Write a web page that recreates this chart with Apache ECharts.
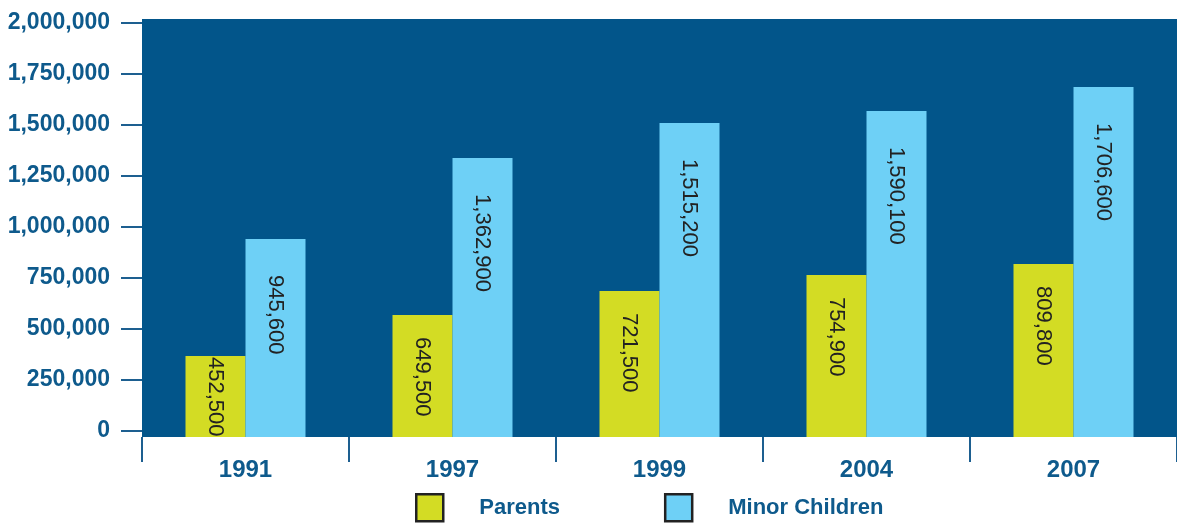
<!DOCTYPE html>
<html>
<head>
<meta charset="utf-8">
<script src="https://cdn.jsdelivr.net/npm/echarts@6/dist/echarts.min.js"></script>
<style>
html,body{margin:0;padding:0;background:#ffffff;}
#chart{width:1177px;height:523px;}
</style>
</head>
<body>
<div id="chart"></div>
<script>
var categories = ['1991', '1997', '1999', '2004', '2007'];
var parentsValues = [365000, 566000, 684000, 763000, 816000];
var childrenValues = [939000, 1336000, 1508000, 1567000, 1684000];
var parentsLabels = ['452,500', '649,500', '721,500', '754,900', '809,800'];
var childrenLabels = ['945,600', '1,362,900', '1,515,200', '1,590,100', '1,706,600'];
var yTickValues = [0, 250000, 500000, 750000, 1000000, 1250000, 1500000, 1750000, 2000000];
var seriesNames = ['Parents', 'Minor Children'];

var FONT = "'Liberation Sans', 'Arial', sans-serif";
var AXIS_COLOR = '#0e5a8c';
var TICK_COLOR = '#1d5f90';
var BG = '#02558a';
var YELLOW = '#d3dc24';
var LIGHTBLUE = '#6ed0f6';

function makeData(values, labels, series) {
  return values.map(function (v, i) {
    var item = { value: v, labelText: labels[i] };
    if (series === 0 && i === 0) {
      item.label = { distance: 1 };
    }
    return item;
  });
}

var chart = echarts.init(document.getElementById('chart'), null, { renderer: 'canvas' });
chart.setOption({
  animation: false,
  backgroundColor: '#ffffff',
  grid: {
    left: 142, right: 0, top: 19, height: 418,
    show: true, backgroundColor: BG, borderWidth: 0,
    outerBoundsMode: 'none'
  },
  legend: {
    left: 415, top: 493, padding: 0,
    itemWidth: 27, itemHeight: 27,
    itemGap: 104,
    icon: 'rect',
    textStyle: {
      fontFamily: FONT, fontWeight: 'bold', fontSize: 22, color: AXIS_COLOR,
      padding: [0, 0, 0, 31]
    },
    data: [
      { name: seriesNames[0], itemStyle: { color: YELLOW, borderColor: '#222222', borderWidth: 2.5 } },
      { name: seriesNames[1], itemStyle: { color: LIGHTBLUE, borderColor: '#222222', borderWidth: 2.5 } }
    ]
  },
  xAxis: {
    type: 'category',
    data: categories,
    boundaryGap: true,
    axisLine: { show: false, onZero: false },
    axisTick: { show: true, length: 25, lineStyle: { color: TICK_COLOR, width: 2 } },
    axisLabel: {
      margin: 21, fontFamily: FONT, fontWeight: 'bold', fontSize: 24, color: AXIS_COLOR
    },
    splitLine: { show: false }
  },
  yAxis: {
    type: 'value',
    min: -32000, max: 2018000,
    startValue: -32000,
    axisLine: { show: false },
    axisTick: { show: true, length: 21, customValues: yTickValues, lineStyle: { color: TICK_COLOR, width: 2 } },
    axisLabel: {
      customValues: yTickValues,
      margin: 32, fontFamily: FONT, fontWeight: 'bold', fontSize: 23, color: AXIS_COLOR,
      formatter: function (v) { return Number(v).toLocaleString('en-US'); }
    },
    splitLine: { show: false }
  },
  series: [
    {
      name: seriesNames[0],
      type: 'bar',
      barWidth: 60,
      barGap: '0%',
      itemStyle: { color: YELLOW },
      data: makeData(parentsValues, parentsLabels, 0),
      label: {
        show: true, position: 'insideTop', distance: 22, rotate: -90,
        align: 'left', verticalAlign: 'middle',
        fontFamily: FONT, fontSize: 22, color: '#222222',
        formatter: function (p) { return p.data.labelText; }
      }
    },
    {
      name: seriesNames[1],
      type: 'bar',
      barWidth: 60,
      barGap: '0%',
      itemStyle: { color: LIGHTBLUE },
      data: makeData(childrenValues, childrenLabels, 1),
      label: {
        show: true, position: 'insideTop', distance: 36, rotate: -90,
        align: 'left', verticalAlign: 'middle',
        fontFamily: FONT, fontSize: 22, color: '#222222',
        formatter: function (p) { return p.data.labelText; }
      }
    }
  ]
});
</script>
</body>
</html>
